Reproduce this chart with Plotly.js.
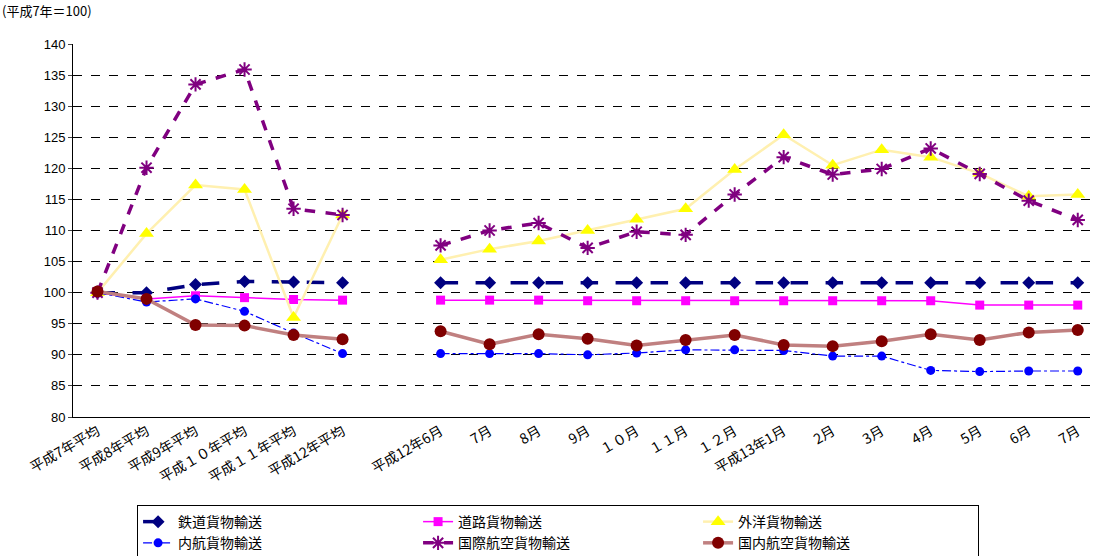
<!DOCTYPE html>
<html><head><meta charset="utf-8">
<script src="https://cdn.plot.ly/plotly-3.0.1.min.js"></script>
<style>body{margin:0}</style></head>
<body><div id="c" style="width:1094px;height:556px"></div>
<script>
const labels=["平成7年平均","平成8年平均","平成9年平均","平成１０年平均","平成１１年平均","平成12年平均","","平成12年6月","7月","8月","9月","１０月","１１月","１２月","平成13年1月","2月","3月","4月","5月","6月","7月"];
const xs=labels.map((_,i)=>i);
const rail=[100,100,101.3,101.8,101.7,101.6,null,101.6,101.6,101.6,101.6,101.6,101.6,101.6,101.6,101.6,101.6,101.6,101.6,101.6,101.6];
const road=[100,99,99.5,99.2,98.9,98.8,null,98.8,98.8,98.8,98.7,98.7,98.7,98.7,98.7,98.7,98.7,98.7,98,98,98];
const ocean=[100,109.5,117.3,116.6,96,112.5,null,105.3,107,108.3,110,111.8,113.5,119.8,125.4,120.5,123,121.8,119.2,115.5,115.8];
const coastal=[100,98.5,99,97,93.5,90.2,null,90.2,90.2,90.2,90,90.3,90.8,90.8,90.7,89.8,89.8,87.5,87.3,87.4,87.4];
const intlAir=[100,120.1,133.5,135.9,113.5,112.5,null,107.6,110,111.2,107.2,109.8,109.3,115.8,121.8,119,119.9,123.2,119.1,114.8,111.7];
const domAir=[100.2,99,94.8,94.7,93.2,92.5,null,93.8,91.7,93.3,92.6,91.5,92.4,93.2,91.6,91.4,92.2,93.3,92.4,93.6,94];
function tr(name,y,line,marker){return {type:'scatter',mode:'lines+markers',name,x:xs,y,line,marker,connectgaps:false};}
const data=[
tr('鉄道貨物輸送',rail,{color:'#000080',width:3.5,dash:'longdash'},{symbol:'diamond',size:10,color:'#000080'}),
tr('道路貨物輸送',road,{color:'#FF00FF',width:1.5},{symbol:'square',size:9,color:'#FF00FF'}),
tr('外洋貨物輸送',ocean,{color:'#FFF0B0',width:2.5},{symbol:'triangle-up',size:13,color:'#FFFF00'}),
tr('内航貨物輸送',coastal,{color:'#0000FF',width:1.2,dash:'dashdot'},{symbol:'circle',size:9,color:'#0000FF'}),
tr('国際航空貨物輸送',intlAir,{color:'#800080',width:3.5,dash:'dash'},{symbol:'asterisk-open',size:12,color:'#800080',line:{width:2,color:'#800080'}}),
tr('国内航空貨物輸送',domAir,{color:'#C08080',width:3.5},{symbol:'circle',size:12,color:'#800000'})
];
const layout={margin:{l:73,r:4,t:44,b:139,autoexpand:false},paper_bgcolor:'#fff',plot_bgcolor:'#fff',
font:{family:'Noto Sans CJK JP, sans-serif',size:13,color:'#000'},showlegend:true,
xaxis:{range:[-0.5,20.25],tickvals:xs,ticktext:labels,tickangle:-30,showgrid:false,zeroline:false,showline:true,linecolor:'#000',ticks:'',tickfont:{size:14},automargin:false},
yaxis:{range:[80,140],dtick:5,showgrid:true,gridcolor:'#000',griddash:'dash',gridwidth:1,zeroline:false,showline:true,linecolor:'#000',ticks:'outside',ticklen:4,tickfont:{size:13,family:'Liberation Sans, Arial'},automargin:false},
legend:{orientation:'h',x:0.063,xanchor:'left',y:-0.236,yanchor:'top',bordercolor:'#000',borderwidth:1,entrywidth:235,entrywidthmode:'pixels',font:{size:14},tracegroupgap:0},
annotations:[{text:'(平成7年＝100)',xref:'paper',yref:'paper',x:-0.072,y:1.0,yshift:22,xanchor:'left',yanchor:'bottom',showarrow:false,font:{size:13}}]};
Plotly.newPlot('c',data,layout,{displayModeBar:false});
</script></body></html>
